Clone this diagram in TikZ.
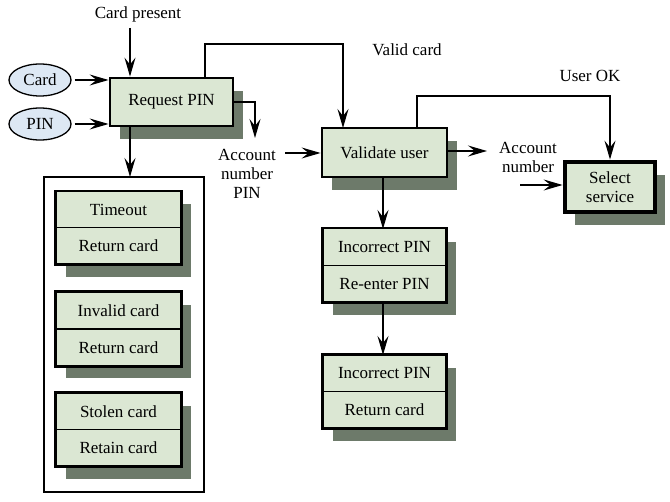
\documentclass[tikz,border=0pt]{standalone}
\usepackage{fontspec}
\setmainfont{Liberation Serif}
\usetikzlibrary{arrows.meta,shadows,shapes.geometric}
\definecolor{boxfill}{HTML}{DBE7D3}
\definecolor{shadowcol}{HTML}{6D7A6A}
\definecolor{ellfill}{HTML}{DDE8F4}
\tikzset{
  txt/.style={font=\fontsize{17}{19}\selectfont, align=center, inner sep=0pt},
  shad/.style={drop shadow={shadow xshift=10pt, shadow yshift=-13pt, fill=shadowcol, opacity=1}},
  proc/.style={txt, draw, line width=2.8pt, fill=boxfill, shad},
  back/.style={fill=boxfill, shad, inner sep=0pt, minimum height=73pt},
  half/.style={txt, draw, line width=1.3pt, fill=boxfill, minimum height=36.5pt},
  frame/.style={draw, line width=2.8pt},
  ell/.style={txt, ellipse, draw, line width=1.3pt, fill=ellfill, minimum width=62pt, minimum height=32pt},
  arr/.style={line width=1.5pt, -{Stealth[length=19pt, width=11pt, inset=7pt]}},
}
\begin{document}
\begin{tikzpicture}[x=1pt,y=-1pt]
\useasboundingbox (0,0) rectangle (670,502);
% container
\node[draw, line width=1.5pt, fill=white, minimum width=160pt, minimum height=315pt, inner sep=0pt] (cont) at (124,334.5) {};
% main boxes
\node[proc, minimum width=123pt, minimum height=48pt] (req) at (171.5,102) {Request PIN};
\node[proc, minimum width=125pt, minimum height=49pt] (val) at (384.5,152.5) {Validate user};
\node[proc, line width=4.8pt, minimum width=90pt, minimum height=50pt] (sel) at (610,187) {Select\\service};
% ellipses
\node[ell] (card) at (40,80) {Card};
\node[ell] (pin) at (40,124) {PIN};
% left stacked boxes
\node[back, minimum width=125pt] (f1) at (118.5,228) {};
\node[half, minimum width=125pt] (t1) at (118.5,210) {Timeout};
\node[half, minimum width=125pt] (b1) at (118.5,246) {Return card};
\draw[frame] (t1.north west) rectangle (b1.south east);
\node[back, minimum width=125pt] (f2) at (118.5,329) {};
\node[half, minimum width=125pt] (t2) at (118.5,310.5) {Invalid card};
\node[half, minimum width=125pt] (b2) at (118.5,347.5) {Return card};
\draw[frame] (t2.north west) rectangle (b2.south east);
\node[back, minimum width=125pt] (f3) at (118.5,429.5) {};
\node[half, minimum width=125pt] (t3) at (118.5,411.5) {Stolen card};
\node[half, minimum width=125pt] (b3) at (118.5,448) {Retain card};
\draw[frame] (t3.north west) rectangle (b3.south east);
% right stacked boxes
\node[back, minimum width=123pt] (fa) at (384.5,265.5) {};
\node[half, minimum width=123pt] (ta) at (384.5,247) {Incorrect PIN};
\node[half, minimum width=123pt] (ba) at (384.5,284) {Re-enter PIN};
\draw[frame] (ta.north west) rectangle (ba.south east);
\node[back, minimum width=123pt] (fb) at (384.5,391.5) {};
\node[half, minimum width=123pt] (tb) at (384.5,373.5) {Incorrect PIN};
\node[half, minimum width=123pt] (bb) at (384.5,410) {Return card};
\draw[frame] (tb.north west) rectangle (bb.south east);
% labels
\node[txt] (cp) at (138,14) {Card present};
\node[txt] (anp) at (247,174) {Account\\number\\PIN};
\node[txt] (vc) at (407,50) {Valid card};
\node[txt] (uok) at (590,76) {User OK};
\node[txt] (an) at (528,157) {Account\\number};
% coordinates
\coordinate (cpbot) at (130,28);
\coordinate (anpin) at (285,153);
\coordinate (anin) at (520,185);
\coordinate (reqout) at (255,138);
\coordinate (valout) at (487,151);
% connectors
\draw[arr] (cpbot) -- (cpbot |- req.north);
\draw[arr] (card.east) ++(3,0) -- (req.west |- card.east);
\draw[arr] (pin.east) ++(3,0) -- (req.west |- pin.east);
\draw[arr] (130,126) -- (130,177);
\draw[arr] (req.east) -- (reqout |- req.east) -- (reqout);
\draw[arr] (anpin) -- (anpin -| val.west);
\draw[arr] (205,78) -- (205,44) -| (343,128);
\draw[arr] (417,128) -- (417,96) -| (sel.north);
\draw[arr] (447,151) -- (valout);
\draw[arr] (anin) -- (anin -| sel.west);
\draw[arr] (383,177) -- (383,229);
\draw[arr] (383,303) -- (383,355);
\end{tikzpicture}
\end{document}
